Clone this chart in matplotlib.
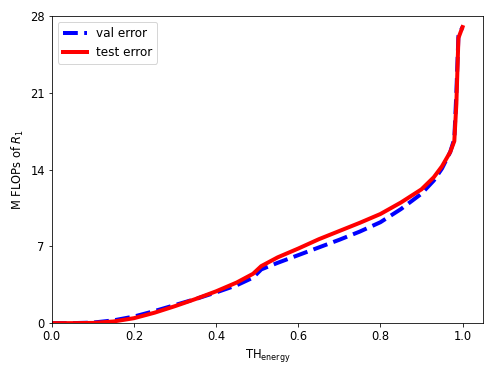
import matplotlib
matplotlib.use("Agg")
import matplotlib.pyplot as plt

x = [0.0, 0.05, 0.1, 0.15, 0.2, 0.25, 0.3, 0.35, 0.4, 0.45, 0.49, 0.51, 0.55, 0.6,
     0.65, 0.7, 0.75, 0.8, 0.85, 0.9, 0.93, 0.95, 0.97, 0.98, 0.985, 0.99, 1.0]
val_error = [0.0, 0.0, 0.05, 0.25, 0.6, 1.1, 1.65, 2.2, 2.8, 3.45, 4.15, 4.9, 5.5, 6.2,
             6.9, 7.6, 8.35, 9.2, 10.4, 11.8, 13.0, 14.1, 15.6, 16.8, 21.0, 26.2, 27.0]
test_error = [0.0, 0.0, 0.02, 0.15, 0.45, 0.95, 1.55, 2.2, 2.9, 3.7, 4.5, 5.2, 6.0, 6.8,
              7.65, 8.4, 9.15, 9.95, 11.0, 12.2, 13.3, 14.3, 15.6, 16.6, 20.0, 26.0, 27.0]
yticks = [0, 7, 14, 21, 28]
xticks = [0.0, 0.2, 0.4, 0.6, 0.8, 1.0]

plt.rcParams['font.size'] = 11.5
fig = plt.figure(figsize=(498/72, 374/72), dpi=72)
ax = fig.add_axes([0.104, 0.136, 0.866, 0.821])
ax.plot(x, val_error, color="blue", linestyle="--", linewidth=4, label="val error")
ax.plot(x, test_error, color="red", linestyle="-", linewidth=4, label="test error")
ax.set_xlim(0, 1.05)
ax.set_ylim(0, 28)
ax.set_xticks(xticks)
ax.set_yticks(yticks)
ax.set_xlabel(r"TH$_{\rm energy}$")
ax.set_ylabel(r"M FLOPs of $R_1$")
ax.legend(loc="upper left", fontsize=12, handlelength=2.0)
fig.savefig("out.png", dpi=72)
